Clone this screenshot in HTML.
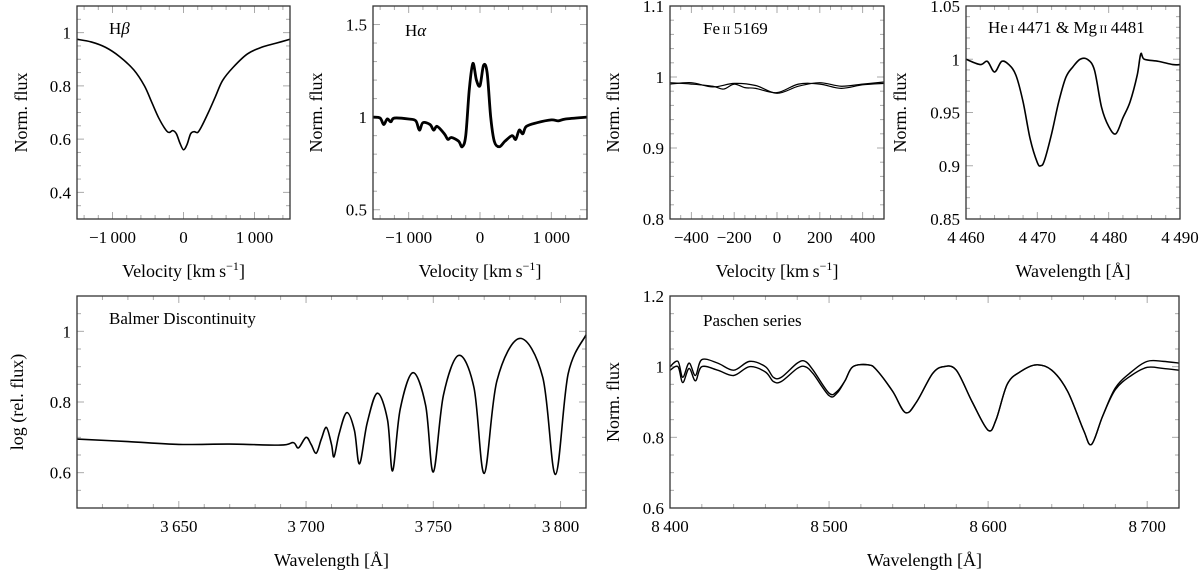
<!DOCTYPE html>
<html><head><meta charset="utf-8"><style>
html,body{margin:0;padding:0;background:#fff;}
svg{display:block;font-family:"Liberation Serif",serif;}
</style></head><body>
<svg id="fig" width="1200" height="573" viewBox="0 0 1200 573" xmlns="http://www.w3.org/2000/svg"></svg>
<script>
// ---- data ----
const hbVel=[-1500,-1300,-1100,-900,-700,-550,-450,-350,-250,-200,-150,-100,-50,0,50,100,150,200,250,350,450,550,700,900,1100,1300,1500];
const hbFlux=[0.975,0.965,0.945,0.91,0.86,0.80,0.74,0.68,0.635,0.625,0.632,0.62,0.585,0.56,0.58,0.62,0.628,0.625,0.645,0.70,0.76,0.82,0.87,0.92,0.945,0.96,0.975];

const haVel=[-1500,-1400,-1350,-1300,-1250,-1200,-1000,-900,-850,-800,-700,-650,-600,-500,-450,-400,-300,-250,-200,-150,-100,-50,0,50,100,150,200,270,350,450,500,550,600,650,800,1000,1100,1200,1500];
const haFlux=[1.0,0.995,0.96,0.99,0.975,0.995,0.99,0.98,0.93,0.97,0.96,0.93,0.95,0.91,0.88,0.89,0.87,0.84,0.9,1.15,1.29,1.2,1.17,1.28,1.24,1.0,0.87,0.84,0.87,0.90,0.88,0.93,0.91,0.95,0.97,0.985,0.98,0.99,1.0];

const feVel=[-500,-400,-300,-200,-100,0,100,200,300,400,500];
const feFluxA=[0.99,0.992,0.986,0.991,0.988,0.977,0.987,0.992,0.987,0.99,0.993];
const feVelB=[-500,-400,-300,-250,-200,-150,-100,0,100,200,300,400,500];
const feFluxB=[0.992,0.99,0.987,0.983,0.99,0.985,0.984,0.978,0.99,0.99,0.984,0.989,0.991];

const heWave=[4460,4462,4463,4464,4465,4466,4467,4468,4469,4470,4470.5,4471,4472,4473,4474,4475,4476,4477,4478,4479,4480,4481,4482,4483,4484,4484.5,4485,4487,4489,4490];
const heFlux=[1.0,0.995,0.998,0.988,0.998,0.995,0.985,0.96,0.925,0.903,0.9,0.905,0.93,0.96,0.983,0.993,1.0,1.0,0.99,0.955,0.937,0.93,0.945,0.96,0.985,1.005,1.0,0.998,0.995,0.995];

const bdWave=[3610,3630,3650,3670,3690,3695,3697,3700,3702,3704,3706,3708,3710,3711,3713,3716,3719,3721,3724,3728,3732,3734,3737,3742,3747,3750,3754,3760,3766,3770,3775,3784,3793,3798,3803,3810];
const bdFlux=[0.695,0.688,0.68,0.681,0.678,0.685,0.67,0.70,0.68,0.655,0.695,0.728,0.68,0.645,0.71,0.77,0.72,0.625,0.74,0.825,0.75,0.605,0.78,0.883,0.79,0.602,0.82,0.932,0.84,0.598,0.86,0.98,0.87,0.595,0.88,0.99];

const paWave=[8400,8405,8408,8412,8416,8420,8430,8440,8450,8460,8465,8470,8480,8485,8490,8500,8505,8510,8515,8525,8530,8540,8548,8555,8565,8572,8580,8590,8600,8605,8612,8620,8630,8640,8650,8660,8665,8672,8680,8690,8700,8710,8720];
const paFluxA=[1.0,1.015,0.97,1.01,0.975,1.02,1.01,0.99,1.015,1.0,0.97,0.97,1.01,1.015,0.99,0.925,0.93,0.96,1.0,1.005,0.99,0.93,0.87,0.9,0.98,1.0,0.99,0.9,0.82,0.85,0.95,0.985,1.005,0.99,0.93,0.82,0.78,0.86,0.94,0.985,1.015,1.015,1.01];
const paFluxB=[0.99,1.0,0.955,0.995,0.96,1.0,0.99,0.975,1.0,0.985,0.958,0.958,0.995,1.0,0.98,0.918,0.925,0.96,1.0,1.005,0.99,0.93,0.87,0.9,0.98,1.0,0.99,0.9,0.82,0.85,0.95,0.985,1.005,0.99,0.93,0.82,0.78,0.86,0.935,0.975,0.998,0.995,0.99];

// ---- drawing ----
const NS="http://www.w3.org/2000/svg";
const svg=document.getElementById('fig');
function mk(tag,attrs,parent){const e=document.createElementNS(NS,tag);for(const k in attrs)e.setAttribute(k,attrs[k]);(parent||svg).appendChild(e);return e;}
function fmt(v){const n=Math.abs(v);let s=String(Math.round(n*1000)/1000);if(n>=1000)s=s.slice(0,s.length-3)+'\u2009'+s.slice(-3);return (v<0?'\u2212':'')+s;}
function catmull(pts){let d='M'+pts[0][0].toFixed(2)+','+pts[0][1].toFixed(2);for(let i=0;i<pts.length-1;i++){const p0=pts[Math.max(0,i-1)],p1=pts[i],p2=pts[i+1],p3=pts[Math.min(pts.length-1,i+2)];const c1=[p1[0]+(p2[0]-p0[0])/6,p1[1]+(p2[1]-p0[1])/6],c2=[p2[0]-(p3[0]-p1[0])/6,p2[1]-(p3[1]-p1[1])/6];d+='C'+c1[0].toFixed(2)+','+c1[1].toFixed(2)+' '+c2[0].toFixed(2)+','+c2[1].toFixed(2)+' '+p2[0].toFixed(2)+','+p2[1].toFixed(2);}return d;}
function panel(c){
 const g=mk('g',{});
 
 
 const sx=v=>c.x0+(v-c.xmin)/(c.xmax-c.xmin)*(c.x1-c.x0);
 const sy=v=>c.y1-(v-c.ymin)/(c.ymax-c.ymin)*(c.y1-c.y0);
 const eps=1e-9;
 for(let v=Math.ceil(c.xmin/c.xminor-eps)*c.xminor;v<=c.xmax+eps;v+=c.xminor){const X=sx(v);const major=Math.abs(v/c.xmajor-Math.round(v/c.xmajor))<1e-6;const L=major?7:4;
  mk('line',{x1:X,y1:c.y1,x2:X,y2:c.y1-L,stroke:'#aaa','stroke-width':1},g);mk('line',{x1:X,y1:c.y0,x2:X,y2:c.y0+L,stroke:'#aaa','stroke-width':1},g);}
 for(let v=Math.ceil(c.ymin/c.yminor-eps)*c.yminor;v<=c.ymax+eps;v+=c.yminor){const Y=sy(v);const major=Math.abs(v/c.ymajor-Math.round(v/c.ymajor))<1e-6;const L=major?7:4;
  mk('line',{x1:c.x0,y1:Y,x2:c.x0+L,y2:Y,stroke:'#aaa','stroke-width':1},g);mk('line',{x1:c.x1,y1:Y,x2:c.x1-L,y2:Y,stroke:'#aaa','stroke-width':1},g);}
 c.xticks.forEach(v=>{const t=mk('text',{x:sx(v),y:c.y1+24,'text-anchor':'middle','font-size':17},g);t.textContent=fmt(v);
  
  });
 c.yticks.forEach(v=>{const t=mk('text',{x:c.x0-6,y:sy(v)+6,'text-anchor':'end','font-size':17},g);t.textContent=fmt(v);
  
  });
 c.series.forEach((s,i)=>{const pts=s.x.map((xv,j)=>[sx(xv),sy(s.y[j])]);const p=mk('path',{d:catmull(pts),fill:'none',stroke:'#000','stroke-width':c.sw||1.4,'stroke-linejoin':'round'},g);
  
  });
 const fr=mk('rect',{x:c.x0,y:c.y0,width:c.x1-c.x0,height:c.y1-c.y0,fill:'none',stroke:'#333','stroke-width':1.3},g);
 
 
 const xl=mk('text',{x:(c.x0+c.x1)/2,y:c.y1+58,'text-anchor':'middle','font-size':18},g);xl.innerHTML=c.xlabel;
 
 
 const yx=c.ylx,yy=(c.y0+c.y1)/2;const yl=mk('text',{x:yx,y:yy,'text-anchor':'middle','font-size':18,transform:'rotate(-90 '+yx+' '+yy+')'},g);yl.textContent=c.ylabel;
 
 
 const tt=mk('text',{x:c.tx,y:c.ty,'font-size':17},g);tt.innerHTML=c.title;
 
 
}
const VL='Velocity [km\u2009s<tspan baseline-shift="super" font-size="12">\u22121</tspan>]';
const WL='Wavelength [\u00c5]';
panel({name:'h-beta',x0:77,x1:290,y0:6,y1:219,xmin:-1500,xmax:1500,ymin:0.3,ymax:1.1,xmajor:1000,xminor:200,ymajor:0.2,yminor:0.05,xticks:[-1000,0,1000],yticks:[0.4,0.6,0.8,1],series:[{x:hbVel,y:hbFlux}],sw:1.6,xlabel:VL,ylabel:'Norm. flux',ylx:27,title:'H<tspan font-style="italic">\u03b2</tspan>',tx:109,ty:34});
panel({name:'h-alpha',x0:373,x1:587,y0:6,y1:219,xmin:-1500,xmax:1500,ymin:0.45,ymax:1.6,xmajor:1000,xminor:200,ymajor:0.5,yminor:0.1,xticks:[-1000,0,1000],yticks:[0.5,1,1.5],series:[{x:haVel,y:haFlux}],sw:2.8,xlabel:VL,ylabel:'Norm. flux',ylx:322,title:'H<tspan font-style="italic">\u03b1</tspan>',tx:405,ty:36});
panel({name:'fe-ii',x0:670,x1:884,y0:6,y1:219,xmin:-500,xmax:500,ymin:0.8,ymax:1.1,xmajor:200,xminor:50,ymajor:0.1,yminor:0.02,xticks:[-400,-200,0,200,400],yticks:[0.8,0.9,1,1.1],series:[{x:feVel,y:feFluxA},{x:feVelB,y:feFluxB}],sw:1.2,xlabel:VL,ylabel:'Norm. flux',ylx:619,title:'Fe<tspan font-size="12">\u2009II</tspan>\u20095169',tx:703,ty:34});
panel({name:'he-mg',x0:966,x1:1180,y0:6,y1:219,xmin:4460,xmax:4490,ymin:0.85,ymax:1.05,xmajor:10,xminor:2,ymajor:0.05,yminor:0.01,xticks:[4460,4470,4480,4490],yticks:[0.85,0.9,0.95,1,1.05],series:[{x:heWave,y:heFlux}],sw:1.6,xlabel:WL,ylabel:'Norm. flux',ylx:906,title:'He<tspan font-size="12">\u2009I</tspan>\u20094471 &amp; Mg<tspan font-size="12">\u2009II</tspan>\u20094481',tx:988,ty:33});
panel({name:'balmer',x0:77,x1:586,y0:296,y1:508,xmin:3610,xmax:3810,ymin:0.5,ymax:1.1,xmajor:50,xminor:10,ymajor:0.2,yminor:0.05,xticks:[3650,3700,3750,3800],yticks:[0.6,0.8,1],series:[{x:bdWave,y:bdFlux}],sw:1.6,xlabel:WL,ylabel:'log (rel. flux)',ylx:23,title:'Balmer Discontinuity',tx:109,ty:324});
panel({name:'paschen',x0:670,x1:1179,y0:296,y1:508,xmin:8400,xmax:8720,ymin:0.6,ymax:1.2,xmajor:100,xminor:20,ymajor:0.2,yminor:0.05,xticks:[8400,8500,8600,8700],yticks:[0.6,0.8,1,1.2],series:[{x:paWave,y:paFluxA},{x:paWave,y:paFluxB}],sw:1.4,xlabel:WL,ylabel:'Norm. flux',ylx:619,title:'Paschen series',tx:703,ty:326});
</script>
</body></html>
